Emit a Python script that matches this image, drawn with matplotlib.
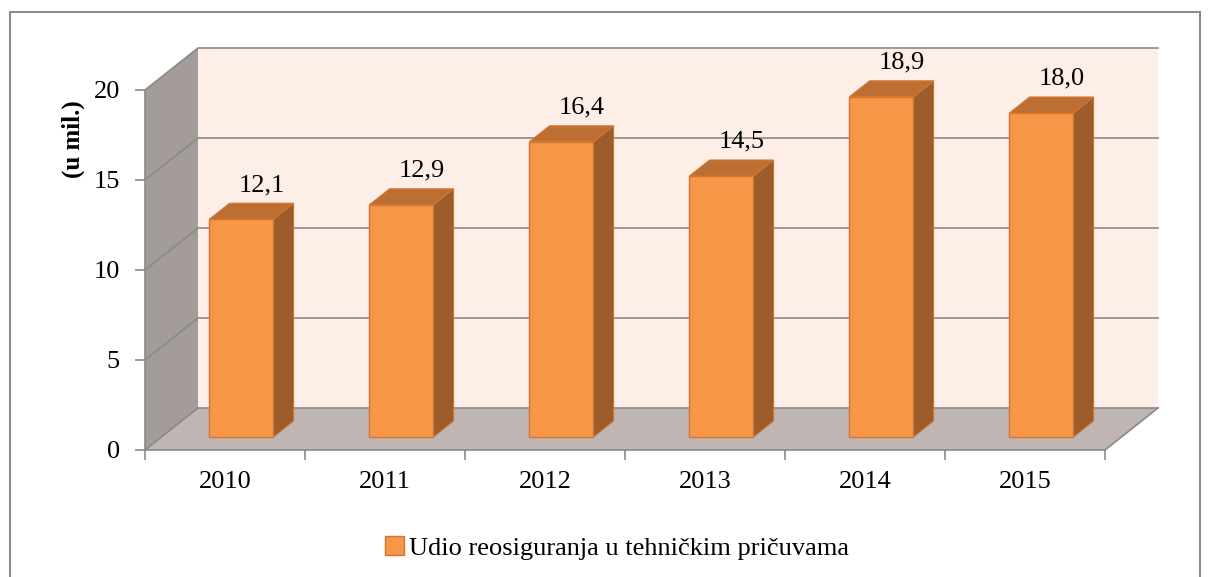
import matplotlib.pyplot as plt
from matplotlib.patches import Polygon, Rectangle, Patch

years = ["2010", "2011", "2012", "2013", "2014", "2015"]
values = [12.1, 12.9, 16.4, 14.5, 18.9, 18.0]
value_labels = ["12,1", "12,9", "16,4", "14,5", "18,9", "18,0"]
y_ticks = [0, 5, 10, 15, 20]
y_label = "(u mil.)"
series_name = "Udio reosiguranja u tehničkim pričuvama"

W, H = 1210, 577
DX, DY = 53 / 160, 42 / 18   # depth of the "3d" box, in data units
BAR_W = 0.4
F0, F1 = 0.31, 0.69           # front / back of the bars, as share of depth
FS = 19

C_FRONT = "#f79646"
C_TOP = "#bd6f33"
C_SIDE = "#9c5c2b"
C_EDGE = "#d27630"
C_BACK = "#fdeee8"
C_LEFT = "#a39c99"
C_FLOOR = "#bfb5b2"
C_GRID = "#8a8a8a"

plt.rcParams["font.family"] = ["Liberation Serif", "DejaVu Serif"]

fig = plt.figure(figsize=(W / 100, H / 100), dpi=100)
ax = fig.add_axes([145 / W, 127 / H, 960 / W, 360 / H])
ax.set_xlim(-0.5, len(years) - 0.5)
ax.set_ylim(0, 20)
ax.patch.set_visible(False)

xl, xr = -0.5, len(years) - 0.5
ymax = y_ticks[-1]

# walls and floor
ax.add_patch(Rectangle((xl + DX, DY), xr - xl, ymax, fc=C_BACK, ec="none",
                       clip_on=False, zorder=0))
ax.add_patch(Polygon([(xl, 0), (xl + DX, DY), (xl + DX, ymax + DY), (xl, ymax)],
                     fc=C_LEFT, ec="none", clip_on=False, zorder=0))
ax.add_patch(Polygon([(xl, 0), (xr, 0), (xr + DX, DY), (xl + DX, DY)],
                     fc=C_FLOOR, ec="none", clip_on=False, zorder=0))
for v in y_ticks:
    ax.plot([xl, xl + DX, xr + DX], [v, v + DY, v + DY], color=C_GRID,
            lw=1.2, clip_on=False, zorder=1)
ax.plot([xr, xr + DX], [0, DY], color=C_GRID, lw=1.2, clip_on=False, zorder=1)

# bars
ddx, ddy = (F1 - F0) * DX, (F1 - F0) * DY
for i, v in enumerate(values):
    x0 = i - BAR_W / 2 + F0 * DX
    y0 = F0 * DY
    side = [(x0 + BAR_W, y0), (x0 + BAR_W + ddx, y0 + ddy),
            (x0 + BAR_W + ddx, y0 + v + ddy), (x0 + BAR_W, y0 + v)]
    top = [(x0, y0 + v), (x0 + BAR_W, y0 + v),
           (x0 + BAR_W + ddx, y0 + v + ddy), (x0 + ddx, y0 + v + ddy)]
    ax.add_patch(Polygon(side, fc=C_SIDE, ec=C_EDGE, lw=0.8, clip_on=False, zorder=3))
    ax.add_patch(Polygon(top, fc=C_TOP, ec=C_EDGE, lw=0.8, clip_on=False, zorder=3))
    ax.add_patch(Rectangle((x0, y0), BAR_W, v, fc=C_FRONT, ec=C_EDGE, lw=1,
                           clip_on=False, zorder=4))
    ax.text(i + F1 * DX, v + F1 * DY + 0.68, value_labels[i], ha="center",
            va="baseline", fontsize=FS)

# axes
for s in ["top", "right"]:
    ax.spines[s].set_visible(False)
for s in ["left", "bottom"]:
    ax.spines[s].set_color(C_GRID)
    ax.spines[s].set_linewidth(1.2)
    ax.spines[s].set_zorder(2)
ax.set_yticks(y_ticks)
ax.set_yticklabels([str(t) for t in y_ticks])
ax.tick_params(axis="y", length=7, width=1.2, color=C_GRID, pad=11, labelsize=FS)
ax.set_xticks([k - 0.5 for k in range(len(years) + 1)])
ax.set_xticklabels([])
ax.tick_params(axis="x", which="major", length=7, width=1.2, color=C_GRID)
ax.set_xticks(range(len(years)), minor=True)
ax.set_xticklabels(years, minor=True)
ax.tick_params(axis="x", which="minor", length=0, pad=15, labelsize=FS)

fig.text(73 / W, 1 - 139 / H, y_label, rotation=90, ha="center", va="center",
         fontsize=18, fontweight="bold")

fig.legend(handles=[Patch(fc=C_FRONT, ec=C_EDGE)], labels=[series_name],
           loc="center", bbox_to_anchor=(617 / W, 1 - 548 / H), frameon=False,
           handlelength=0.7, handleheight=0.7, handletextpad=0.2, fontsize=FS)

# chart area border
fig.add_artist(Rectangle((10 / W, -0.05), 1190 / W, 1.05 - 12 / H,
                         transform=fig.transFigure, fill=False, ec="#8c8c8c", lw=1.5))

fig.savefig("out.png", dpi=100)
